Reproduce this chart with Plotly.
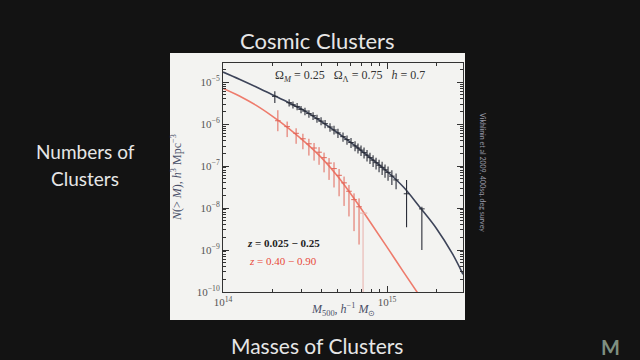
import plotly.graph_objects as go

# ---- data ----
model_logM = [14.00, 14.10, 14.20, 14.30, 14.40, 14.50, 14.60, 14.70, 14.80, 14.90, 15.00, 15.10, 15.20, 15.30, 15.40, 15.463]
black_model_logN = [-4.76, -4.93, -5.11, -5.30, -5.49, -5.69, -5.94, -6.21, -6.50, -6.81, -7.13, -7.50, -7.98, -8.48, -9.10, -9.58]
red_model_logM = [14.00, 14.10, 14.20, 14.30, 14.40, 14.50, 14.60, 14.70, 14.80, 14.90, 15.00, 15.10, 15.20]
red_model_logN = [-5.15, -5.33, -5.55, -5.81, -6.10, -6.43, -6.80, -7.25, -7.78, -8.35, -8.93, -9.52, -10.10]

black_M14 = [2.07, 2.53, 2.67, 2.83, 2.99, 3.16, 3.34, 3.54, 3.74, 3.96, 4.19, 4.49, 4.75, 5.02, 5.39, 5.70,
             6.03, 6.38, 6.65, 6.94, 7.24, 7.55, 7.87, 8.22, 8.57, 8.94, 9.33, 9.72, 10.14, 10.7, 11.35, 13.15, 16.3]
black_logN = [-5.34, -5.49, -5.54, -5.58, -5.65, -5.69, -5.75, -5.80, -5.87, -5.93, -5.99, -6.07, -6.14, -6.21, -6.30, -6.37,
              -6.44, -6.52, -6.57, -6.62, -6.68, -6.74, -6.80, -6.86, -6.92, -6.98, -7.03, -7.09, -7.15, -7.24, -7.33, -7.66, -8.02]
black_err_up = [0.12, 0.08, 0.08, 0.08, 0.08, 0.08, 0.08, 0.08, 0.09, 0.09, 0.09, 0.09, 0.10, 0.10, 0.10, 0.10,
                0.11, 0.11, 0.11, 0.11, 0.12, 0.12, 0.12, 0.12, 0.12, 0.13, 0.13, 0.13, 0.14, 0.14, 0.15, 0.33, 0.05]
black_err_dn = [0.16, 0.09, 0.09, 0.09, 0.09, 0.10, 0.10, 0.10, 0.10, 0.10, 0.11, 0.11, 0.11, 0.12, 0.12, 0.12,
                0.13, 0.13, 0.13, 0.14, 0.14, 0.15, 0.15, 0.16, 0.16, 0.17, 0.18, 0.19, 0.20, 0.21, 0.22, 0.80, 0.98]

red_M14 = [2.16, 2.46, 2.79, 3.07, 3.34, 3.59, 3.85, 4.13, 4.43, 4.75, 5.10, 5.47, 5.86, 6.29, 6.75]
red_logN = [-5.92, -6.06, -6.22, -6.35, -6.47, -6.57, -6.67, -6.80, -6.93, -7.06, -7.22, -7.40, -7.60, -7.80, -7.97]
red_err_up = [0.25, 0.12, 0.12, 0.12, 0.12, 0.12, 0.12, 0.12, 0.12, 0.15, 0.15, 0.15, 0.15, 0.15, 0.20]
red_err_dn = [0.25, 0.25, 0.25, 0.25, 0.28, 0.30, 0.30, 0.35, 0.40, 0.45, 0.50, 0.55, 0.60, 0.75, 0.90]

upper_limit_M14 = [7.14]
upper_limit_logN = [-8.12]
upper_limit_dn = [2.3]

y_major = [-10, -9, -8, -7, -6, -5]
x_major = [1e14, 1e15]
x_major_text = ["10<sup>14</sup>", "10<sup>15</sup>"]

# ---- geometry helpers ----
W, H = 640, 360
L, R, T, B = 223, 463, 63, 292


def px(x):
    return (x - L) / (R - L)


def py(y):
    return (B - y) / (B - T)


fig = go.Figure()

# white slide panel
fig.add_shape(type="rect", xref="paper", yref="paper", x0=px(170), x1=px(465), y0=py(320), y1=py(53),
              fillcolor="#f3f3f1", line=dict(width=0), layer="below")

# model curves
fig.add_trace(go.Scatter(x=[10 ** v for v in model_logM], y=[10 ** v for v in black_model_logN],
                         mode="lines", line=dict(color="#3d4459", width=1.6, shape="spline"),
                         hoverinfo="skip"))
fig.add_trace(go.Scatter(x=[10 ** v for v in red_model_logM], y=[10 ** v for v in red_model_logN],
                         mode="lines", line=dict(color="#ee7b6c", width=1.6, shape="spline"),
                         hoverinfo="skip"))


def err_trace(M14, logN, up, dn, color, width, size):
    y = [10 ** v for v in logN]
    hi = [10 ** (v + u) - 10 ** v for v, u in zip(logN, up)]
    lo = [10 ** v - 10 ** (v - d) for v, d in zip(logN, dn)]
    return go.Scatter(x=[m * 1e14 for m in M14], y=y, mode="markers",
                      marker=dict(symbol="line-ew", size=size, line=dict(color=color, width=1)),
                      error_y=dict(type="data", symmetric=False, array=hi, arrayminus=lo,
                                   color=color, thickness=width, width=0),
                      hoverinfo="skip")


fig.add_trace(err_trace(red_M14, red_logN, red_err_up, red_err_dn, "#e2675a", 1.0, 4))
fig.add_trace(err_trace(upper_limit_M14, upper_limit_logN, [0.0], upper_limit_dn, "#e8b0aa", 1.0, 0))
fig.add_trace(err_trace(black_M14, black_logN, black_err_up, black_err_dn, "#2a2d38", 1.1, 4))

# minor ticks
y_minor = [k * 10.0 ** e for e in range(-10, -4) for k in range(2, 10)]
x_minor = [k * 1e14 for k in range(2, 10)] + [2e15]

serif = "Liberation Serif"
fig.update_layout(
    width=W, height=H, margin=dict(l=L, r=W - R, t=T, b=H - B),
    paper_bgcolor="#131313", plot_bgcolor="#f3f3f1", showlegend=False,
    xaxis=dict(type="log", range=[14, 15.463], tickmode="array", tickvals=x_major, ticktext=x_major_text,
               ticks="inside", ticklen=6, tickcolor="#333", mirror="ticks", showline=True,
               linecolor="#333", linewidth=1, showgrid=False, zeroline=False,
               tickfont=dict(family=serif, size=11, color="#555"),
               minor=dict(tickmode="array", tickvals=x_minor, ticks="inside", ticklen=3, tickcolor="#333",
                          showgrid=False)),
    yaxis=dict(type="log", range=[-10, -4.545], tickmode="array", tickvals=[10.0 ** e for e in y_major],
               ticktext=["10<sup>\u2212%d</sup>" % (-e) for e in y_major],
               ticks="inside", ticklen=6, tickcolor="#333", mirror="ticks", showline=True,
               linecolor="#333", linewidth=1, showgrid=False, zeroline=False,
               tickfont=dict(family=serif, size=11, color="#555"),
               minor=dict(tickmode="array", tickvals=y_minor, ticks="inside", ticklen=3, tickcolor="#333",
                          showgrid=False)),
)

ann = []


def text(x, y, s, size, color, family="Lato", angle=0, xanchor="center"):
    ann.append(dict(x=px(x), y=py(y), xref="paper", yref="paper", text=s, showarrow=False,
                    font=dict(family=family, size=size, color=color), textangle=angle,
                    xanchor=xanchor, yanchor="middle"))


# slide text
text(317, 40, "Cosmic Clusters", 22, "#e6e6e6")
text(85, 151, "Numbers of", 19, "#e6e6e6")
text(85, 178, "Clusters", 19, "#e6e6e6")
text(317, 345, "Masses of Clusters", 21, "#e6e6e6")
text(483, 172, "Vikhlinin et al 2009, 400sq. deg survey", 7, "#9a9aa8", angle=90)
text(610, 347, "<b>M</b>", 20, "#7f8f80")

# chart text
text(176, 178, "<i>N</i>(&gt; <i>M</i>), <i>h</i><sup>3</sup> Mpc<sup>\u22123</sup>", 12, "#4a5068", family=serif, angle=-90)
text(343, 309, "<i>M</i><sub>500</sub>, <i>h</i><sup>\u22121</sup> <i>M</i><sub>\u2299</sub>", 12, "#4a5068", family=serif)
text(350, 76, "\u03a9<sub><i>M</i></sub> = 0.25   \u03a9<sub>\u039b</sub> = 0.75   <i>h</i> = 0.7", 12, "#333", family=serif)
text(245, 243, "<b><i>z</i> = 0.025 \u2212 0.25</b>", 11, "#222", family=serif, xanchor="left")
text(247, 261, "<i>z</i> = 0.40 \u2212 0.90", 11, "#e8483a", family=serif, xanchor="left")

fig.update_layout(annotations=ann)
fig.write_html("out.html")
